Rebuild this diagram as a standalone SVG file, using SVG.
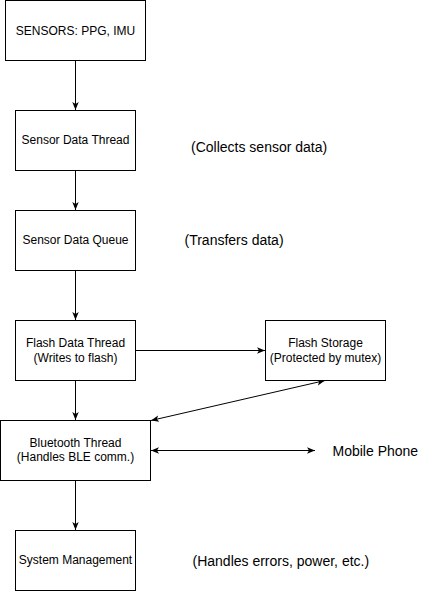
<svg xmlns="http://www.w3.org/2000/svg" width="436" height="591" viewBox="0 0 436 591">
<style>
.box{fill:#ffffff;stroke:#000000;stroke-width:1}
.t{font-family:"Liberation Sans",Arial,sans-serif;font-size:12px;fill:#000000;text-anchor:middle;dominant-baseline:central}
.side{font-family:"Liberation Sans",Arial,sans-serif;font-size:14px;fill:#000000;dominant-baseline:central}
.c{fill:none;stroke:#000000;stroke-width:1}
</style>
<defs>
<marker id="ah" viewBox="0 0 10 10" refX="10" refY="5" markerWidth="8" markerHeight="8" markerUnits="userSpaceOnUse" orient="auto-start-reverse">
<path d="M0,1 L10,5 L0,9 L2.5,5 z" fill="#000000"/>
</marker>
</defs>
<rect width="436" height="591" fill="#ffffff"/>
<g id="connectors">
<line class="c" x1="75.5" y1="60.5" x2="75.5" y2="110" marker-end="url(#ah)"/>
<line class="c" x1="75.5" y1="170.5" x2="75.5" y2="210" marker-end="url(#ah)"/>
<line class="c" x1="75.5" y1="270.5" x2="75.5" y2="320" marker-end="url(#ah)"/>
<line class="c" x1="135.5" y1="350.5" x2="265" y2="350.5" marker-end="url(#ah)"/>
<line class="c" x1="75.5" y1="380.5" x2="75.5" y2="420" marker-end="url(#ah)"/>
<line class="c" x1="151" y1="420.5" x2="325" y2="380.5" marker-start="url(#ah)" marker-end="url(#ah)"/>
<line class="c" x1="151" y1="450.5" x2="315" y2="450.5" marker-start="url(#ah)" marker-end="url(#ah)"/>
<line class="c" x1="75.5" y1="480.5" x2="75.5" y2="530" marker-end="url(#ah)"/>
</g>
<g id="sensors">
<rect class="box" x="5.5" y="0.5" width="140" height="60"/>
<text class="t" x="75.5" y="31">SENSORS: PPG, IMU</text>
</g>
<g id="sensor-data-thread">
<rect class="box" x="15.5" y="110.5" width="120" height="60"/>
<text class="t" x="75.5" y="140">Sensor Data Thread</text>
</g>
<g id="sensor-data-queue">
<rect class="box" x="15.5" y="210.5" width="120" height="60"/>
<text class="t" x="75.5" y="240">Sensor Data Queue</text>
</g>
<g id="flash-data-thread">
<rect class="box" x="15.5" y="320.5" width="120" height="60"/>
<text class="t" x="75.5" y="343">Flash Data Thread</text>
<text class="t" x="75.5" y="358">(Writes to flash)</text>
</g>
<g id="flash-storage">
<rect class="box" x="265.5" y="320.5" width="120" height="60"/>
<text class="t" x="325.5" y="343">Flash Storage</text>
<text class="t" x="325.5" y="358">(Protected by mutex)</text>
</g>
<g id="bluetooth-thread">
<rect class="box" x="0.5" y="420.5" width="150" height="60"/>
<text class="t" x="75.5" y="443">Bluetooth Thread</text>
<text class="t" x="75.5" y="457">(Handles BLE comm.)</text>
</g>
<g id="system-management">
<rect class="box" x="15.5" y="530.5" width="120" height="60"/>
<text class="t" x="75.5" y="560">System Management</text>
</g>
<g id="labels">
<text class="side" x="191" y="147">(Collects sensor data)</text>
<text class="side" x="184.5" y="240">(Transfers data)</text>
<text class="side" x="332.5" y="450.5">Mobile Phone</text>
<text class="side" x="192.5" y="561">(Handles errors, power, etc.)</text>
</g>
</svg>
